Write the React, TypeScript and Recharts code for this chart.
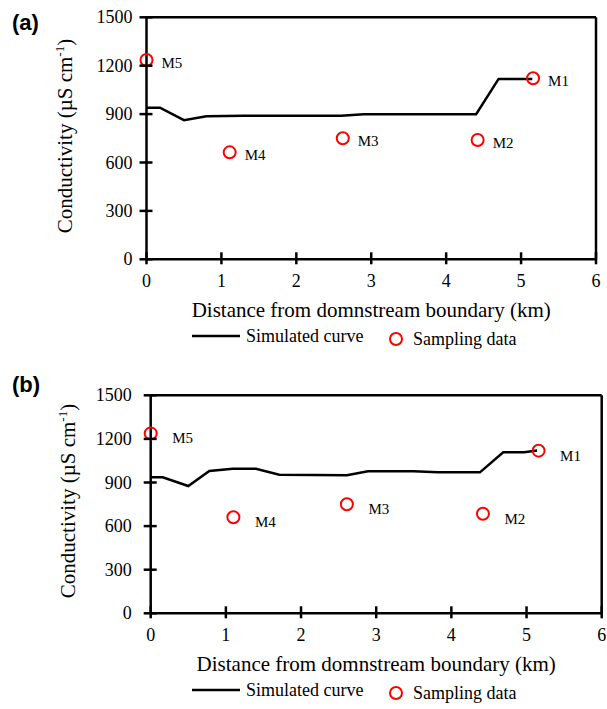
import { ComposedChart, Line, Scatter, XAxis, YAxis, ReferenceLine } from 'recharts';

// simulated curve, panel (a)
const curveDistA = [0, 0.18, 0.5, 0.8, 1.3, 2.6, 2.9, 4.4, 4.7, 5.15];
const curveCondA = [940, 940, 862, 886, 890, 890, 899, 899, 1118, 1118];

// simulated curve, panel (b)
const curveDistB = [0, 0.16, 0.5, 0.78, 1.09, 1.4, 1.71, 2.61, 2.89, 3.5, 3.82, 4.38, 4.69, 4.97, 5.14];
const curveCondB = [936, 936, 876, 979, 995, 995, 954, 950, 977, 977, 970, 970, 1108, 1108, 1120];

// sampling stations
const sampleNames = ['M5', 'M4', 'M3', 'M2', 'M1'];
const sampleDistA = [0, 1.11, 2.62, 4.42, 5.16];
const sampleCondA = [1235, 663, 750, 739, 1122];
const sampleDistB = [0, 1.1, 2.61, 4.42, 5.16];
const sampleCondB = [1238, 661, 750, 685, 1119];

const xTicks = [0, 1, 2, 3, 4, 5, 6];
const yTicks = [0, 300, 600, 900, 1200, 1500];

const SERIF = '"Liberation Serif", "Times New Roman", serif';
const SANS = '"Liberation Sans", Arial, sans-serif';

interface Layout {
  top: number;
  height: number;
  left: number;
  right: number;
  plotTop: number;
  plotBottom: number;
  tickGap: number;
  labelDx: number;
  labelDy: number;
  yLabelX: number;
  yLabelY: number;
  titleTop: number;
}

interface PanelProps {
  title: string;
  dist: number[];
  cond: number[];
  sDist: number[];
  sCond: number[];
  layout: Layout;
}

function Panel({ title, dist, cond, sDist, sCond, layout }: PanelProps) {
  const { top, height, left, right, plotTop, plotBottom, tickGap, labelDx, labelDy } = layout;
  const curve = dist.map((x, i) => ({ x, y: cond[i] }));
  const samples = sDist.map((x, i) => ({ x, y: sCond[i], name: sampleNames[i] }));
  const yAxisW = 60;
  const xAxisH = 30;

  const XTick = (p: any) => (
    <g>
      <line x1={p.x} x2={p.x} y1={plotBottom - 7} y2={plotBottom + 5} stroke="#000" strokeWidth={2.5} />
      <text x={p.x} y={plotBottom + 22} textAnchor="middle" dominantBaseline="central"
        fontFamily={SERIF} fontSize={18} fill="#000">{p.payload.value}</text>
    </g>
  );
  const YTick = (p: any) => (
    <g>
      <line x1={left - 7} x2={left + 6} y1={p.y} y2={p.y} stroke="#000" strokeWidth={2.5} />
      <text x={left - tickGap} y={p.y} textAnchor="end" dominantBaseline="central"
        fontFamily={SERIF} fontSize={18} fill="#000">{p.payload.value}</text>
    </g>
  );

  const SampleShape = (p: any) => (
    <g>
      <circle cx={p.cx} cy={p.cy} r={6} fill="none" stroke="#ff0000" strokeWidth={2} />
      <text x={p.cx + labelDx} y={p.cy + labelDy} dominantBaseline="central"
        fontFamily={SERIF} fontSize={15} fill="#000">{p.payload.name}</text>
    </g>
  );

  const plotCx = (left + (607 - right)) / 2;

  return (
    <div style={{ position: 'absolute', left: 0, top, width: 607, height }}>
      <div style={{ position: 'absolute', left: 12, top: layout.titleTop, fontFamily: SANS, fontWeight: 'bold', fontSize: 22, lineHeight: '26px' }}>
        {title}
      </div>
      <ComposedChart
        width={607}
        height={height}
        margin={{ top: plotTop, right, left: left - yAxisW, bottom: height - plotBottom - xAxisH }}
      >
        <XAxis
          type="number"
          dataKey="x"
          domain={[0, 6]}
          ticks={xTicks}
          interval={0}
          height={xAxisH}
          axisLine={{ stroke: '#000', strokeWidth: 2.5 }}
          tickLine={false}
          tick={XTick}
          label={{
            content: () => (
              <text x={plotCx} y={plotBottom + 51} textAnchor="middle" dominantBaseline="central"
                fontFamily={SERIF} fontSize={21} fill="#000">
                Distance from domnstream boundary (km)
              </text>
            ),
          }}
        />
        <YAxis
          type="number"
          dataKey="y"
          domain={[0, 1500]}
          ticks={yTicks}
          interval={0}
          width={yAxisW}
          axisLine={{ stroke: '#000', strokeWidth: 2.5 }}
          tickLine={false}
          tick={YTick}
          label={{
            content: () => (
              <text x={layout.yLabelX} y={layout.yLabelY} textAnchor="middle"
                transform={`rotate(-90, ${layout.yLabelX}, ${layout.yLabelY})`}
                fontFamily={SERIF} fontSize={21} fill="#000">
                Conductivity (µS cm<tspan dy={-8} fontSize={13}>-1</tspan><tspan dy={8}>)</tspan>
              </text>
            ),
          }}
        />
        <ReferenceLine y={1500} stroke="#000" strokeWidth={2.5} />
        <ReferenceLine x={6} stroke="#000" strokeWidth={2.5} />
        <Line
          data={curve}
          dataKey="y"
          type="linear"
          stroke="#000"
          strokeWidth={2.5}
          dot={false}
          isAnimationActive={false}
        />
        <Scatter data={samples} dataKey="y" shape={SampleShape} isAnimationActive={false} />
      </ComposedChart>
      <svg style={{ position: 'absolute', left: 0, top: plotBottom + 62 }} width={607} height={30}>
        <line x1={192} x2={240} y1={15} y2={15} stroke="#000" strokeWidth={2.5} />
        <text x={246} y={15} dominantBaseline="central" fontFamily={SERIF} fontSize={18}>Simulated curve</text>
        <circle cx={396} cy={18} r={6} fill="none" stroke="#ff0000" strokeWidth={2} />
        <text x={413} y={18} dominantBaseline="central" fontFamily={SERIF} fontSize={18}>Sampling data</text>
      </svg>
    </div>
  );
}

const layoutA: Layout = {
  top: 0, height: 355, left: 146.5, right: 11, plotTop: 17.3, plotBottom: 259.3,
  tickGap: 14, labelDx: 15, labelDy: 3, yLabelX: 72, yLabelY: 136, titleTop: 10,
};
const layoutB: Layout = {
  top: 355, height: 354, left: 150.7, right: 5.3, plotTop: 40.3, plotBottom: 258.3,
  tickGap: 19, labelDx: 21.5, labelDy: 5, yLabelX: 75, yLabelY: 146, titleTop: 17,
};

export default function App() {
  return (
    <div style={{ position: 'absolute', left: 0, top: 0, width: 607, height: 709, background: '#fff' }}>
      <Panel title="(a)" dist={curveDistA} cond={curveCondA} sDist={sampleDistA} sCond={sampleCondA} layout={layoutA} />
      <Panel title="(b)" dist={curveDistB} cond={curveCondB} sDist={sampleDistB} sCond={sampleCondB} layout={layoutB} />
    </div>
  );
}
